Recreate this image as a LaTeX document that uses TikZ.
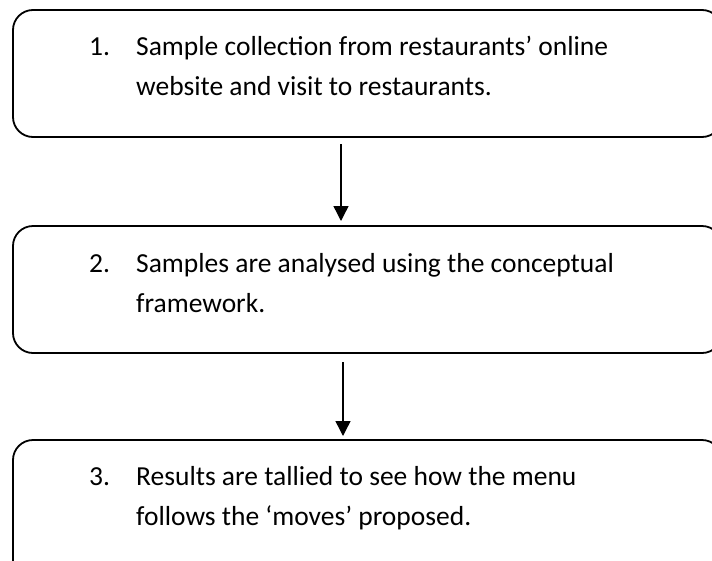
\documentclass[tikz,border=0pt]{standalone}
\usepackage{fontspec}
\setmainfont{Carlito}
\usetikzlibrary{arrows.meta}
\usetikzlibrary{positioning}

% numbered item with hanging indent, as in the flow boxes
\newcommand{\stepitem}[3]{\parbox[t]{600pt}{\hangindent=47pt\hangafter=1\noindent\makebox[47pt][l]{#1}#2\\#3}}

\begin{document}
\begin{tikzpicture}[x=1pt,y=1pt,
  stepbox/.style={draw=black,line width=1.8pt,rounded corners=20pt,minimum width=709pt,minimum height=127pt,inner sep=0pt,outer sep=0pt,anchor=north west},
  steptext/.style={inner sep=0pt,anchor=base west,text=black,font=\fontsize{27.5}{40}\selectfont},
  flow/.style={line width=1.4pt,-{Triangle[width=15pt,length=15pt]}}]
\useasboundingbox (0,0) rectangle (712,-560);
\clip (0,0) rectangle (712,-560);

\node[stepbox] (box1) at (13,-10) {};
\node[stepbox] (box2) at (13,-226) {};
\node[stepbox,minimum height=150pt] (box3) at (13,-440) {};

\node[steptext] (txt1) at (89,-55) {\stepitem{1.}{Sample collection from restaurants’ online}{website and visit to restaurants.}};
\node[steptext] (txt2) at (89,-272) {\stepitem{2.}{Samples are analysed using the conceptual}{framework.}};
\node[steptext] (txt3) at (89,-485) {\stepitem{3.}{Results are tallied to see how the menu}{follows the ‘moves’ proposed.}};

\coordinate (a1) at (341,0);
\coordinate (a2) at (343,0);
\draw[flow,shorten <=7pt,shorten >=5pt] (box1.south -| a1) -- (box2.north -| a1);
\draw[flow,shorten <=9pt,shorten >=4pt] (box2.south -| a2) -- (box3.north -| a2);

\end{tikzpicture}
\end{document}
